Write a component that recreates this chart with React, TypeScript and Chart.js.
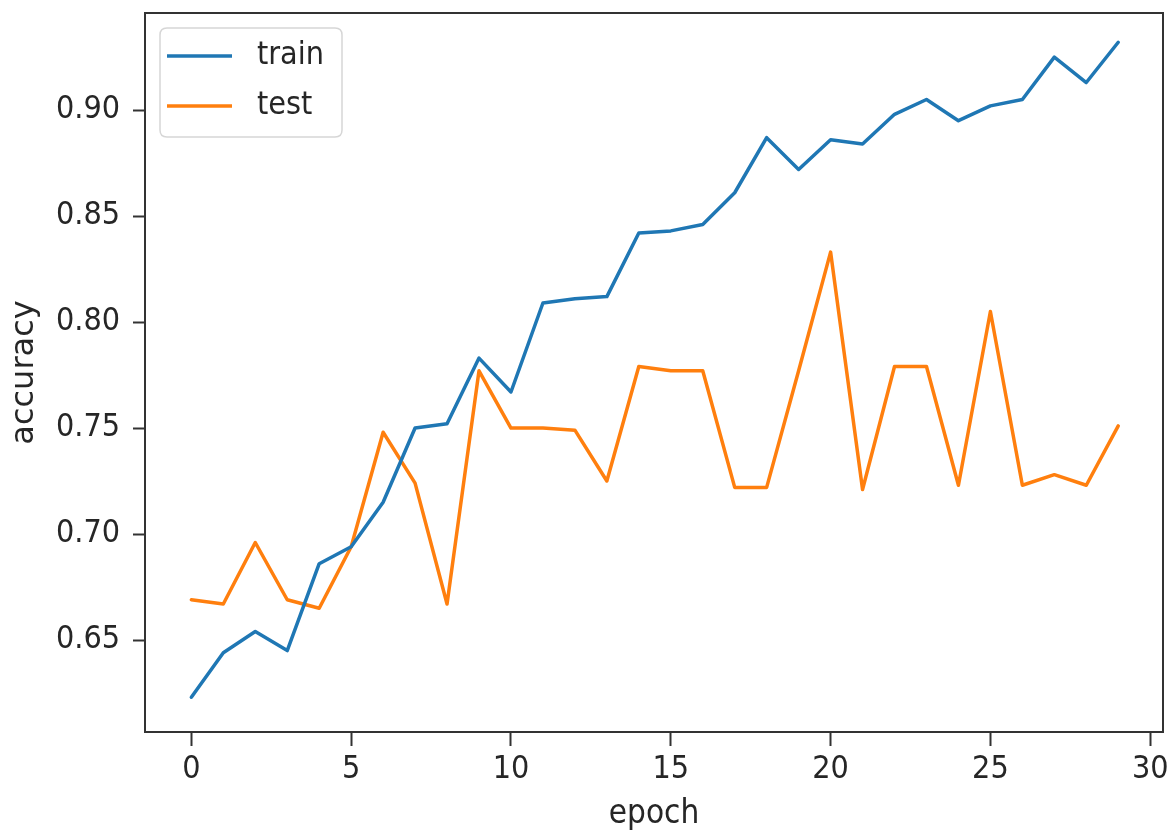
import React, { useEffect, useRef } from "react";
import { Chart, registerables } from "chart.js";

Chart.register(...registerables);

const epochs = [0, 1, 2, 3, 4, 5, 6, 7, 8, 9, 10, 11, 12, 13, 14, 15, 16, 17, 18, 19, 20, 21, 22, 23, 24, 25, 26, 27, 28, 29];
const trainAcc = [0.623, 0.644, 0.654, 0.645, 0.686, 0.694, 0.715, 0.75, 0.752, 0.783, 0.767, 0.809, 0.811, 0.812, 0.842, 0.843, 0.846, 0.861, 0.887, 0.872, 0.886, 0.884, 0.898, 0.905, 0.895, 0.902, 0.905, 0.925, 0.913, 0.932];
const testAcc = [0.669, 0.667, 0.696, 0.669, 0.665, 0.694, 0.748, 0.724, 0.667, 0.777, 0.75, 0.75, 0.749, 0.725, 0.779, 0.777, 0.777, 0.722, 0.722, 0.777, 0.833, 0.721, 0.779, 0.779, 0.723, 0.805, 0.723, 0.728, 0.723, 0.751];
const xTickValues = [0, 5, 10, 15, 20, 25, 30];
const yTickValues = [0.65, 0.7, 0.75, 0.8, 0.85, 0.9];
const seriesLabels = ["train", "test"];
const seriesColors = ["#1f77b4", "#ff7f0e"];
const xTitle = "epoch";
const yTitle = "accuracy";

const TICK_FONT = "'DejaVu Sans Condensed', 'DejaVu Sans', sans-serif";
const TEXT_COLOR = "#262626";

const framePlugin = {
  id: "frameAndLegend",
  afterDraw(chart: any) {
    const { ctx, chartArea: a } = chart;
    ctx.save();
    ctx.strokeStyle = "#333333";
    ctx.lineWidth = 2;
    ctx.strokeRect(a.left, a.top, a.right - a.left, a.bottom - a.top);

    const bx = a.left + 15;
    const by = a.top + 15;
    const bw = 182;
    const bh = 109;
    const r = 7;
    ctx.beginPath();
    ctx.moveTo(bx + r, by);
    ctx.lineTo(bx + bw - r, by);
    ctx.quadraticCurveTo(bx + bw, by, bx + bw, by + r);
    ctx.lineTo(bx + bw, by + bh - r);
    ctx.quadraticCurveTo(bx + bw, by + bh, bx + bw - r, by + bh);
    ctx.lineTo(bx + r, by + bh);
    ctx.quadraticCurveTo(bx, by + bh, bx, by + bh - r);
    ctx.lineTo(bx, by + r);
    ctx.quadraticCurveTo(bx, by, bx + r, by);
    ctx.closePath();
    ctx.fillStyle = "rgba(255,255,255,0.8)";
    ctx.fill();
    ctx.strokeStyle = "#d6d6d6";
    ctx.lineWidth = 1.5;
    ctx.stroke();

    chart.data.datasets.forEach((ds: any, i: number) => {
      const y = by + 28 + i * 50;
      ctx.beginPath();
      ctx.moveTo(bx + 7, y);
      ctx.lineTo(bx + 72, y);
      ctx.strokeStyle = ds.borderColor;
      ctx.lineWidth = 3.5;
      ctx.stroke();
      ctx.fillStyle = TEXT_COLOR;
      ctx.font = `32px ${TICK_FONT}`;
      ctx.textAlign = "left";
      ctx.textBaseline = "middle";
      ctx.fillText(ds.label, bx + 97, y);
    });
    ctx.restore();
  },
};

export default function App() {
  const canvasRef = useRef<HTMLCanvasElement | null>(null);

  useEffect(() => {
    document.body.style.margin = "0";
    const canvas = canvasRef.current;
    if (!canvas) return;
    const chart = new Chart(canvas, {
      type: "line",
      data: {
        datasets: [
          {
            label: seriesLabels[0],
            data: epochs.map((e, i) => ({ x: e, y: trainAcc[i] })),
            borderColor: seriesColors[0],
            backgroundColor: seriesColors[0],
          },
          {
            label: seriesLabels[1],
            data: epochs.map((e, i) => ({ x: e, y: testAcc[i] })),
            borderColor: seriesColors[1],
            backgroundColor: seriesColors[1],
          },
        ],
      },
      options: {
        responsive: false,
        animation: false,
        devicePixelRatio: 1,
        layout: { padding: { top: 13, right: 7, left: 0, bottom: 0 } },
        plugins: { legend: { display: false }, tooltip: { enabled: false } },
        elements: {
          point: { radius: 0, hoverRadius: 0 },
          line: { borderWidth: 3.5, tension: 0, borderJoinStyle: "round", borderCapStyle: "round" },
        },
        scales: {
          x: {
            type: "linear",
            min: -1.45,
            max: 30.4,
            afterBuildTicks: (s: any) => {
              s.ticks = xTickValues.map((v) => ({ value: v }));
            },
            afterFit: (s: any) => {
              s.height = 105;
              s.paddingLeft = 0;
              s.paddingRight = 0;
            },
            border: { display: false },
            grid: {
              display: true,
              drawOnChartArea: false,
              drawTicks: true,
              tickLength: 14,
              tickWidth: 2,
              tickColor: "#333333",
            },
            ticks: {
              color: TEXT_COLOR,
              font: { family: TICK_FONT, size: 32 },
              padding: 4,
              maxRotation: 0,
              autoSkip: false,
              callback: (v: any) => String(v),
            },
            title: {
              display: true,
              text: xTitle,
              color: TEXT_COLOR,
              font: { family: TICK_FONT, size: 33 },
              padding: { top: 0, bottom: 3 },
            },
          },
          y: {
            type: "linear",
            min: 0.6066,
            max: 0.9458,
            afterBuildTicks: (s: any) => {
              s.ticks = yTickValues.map((v) => ({ value: v }));
            },
            afterFit: (s: any) => {
              s.width = 145;
              s.paddingTop = 0;
              s.paddingBottom = 0;
            },
            border: { display: false },
            grid: {
              display: true,
              drawOnChartArea: false,
              drawTicks: true,
              tickLength: 12,
              tickWidth: 2,
              tickColor: "#333333",
            },
            ticks: {
              color: TEXT_COLOR,
              font: { family: TICK_FONT, size: 32 },
              padding: 13,
              autoSkip: false,
              callback: (v: any) => Number(v).toFixed(2),
            },
            title: {
              display: true,
              text: yTitle,
              color: TEXT_COLOR,
              font: { family: "'DejaVu Sans', sans-serif", size: 32 },
              padding: { top: 5, bottom: 0 },
            },
          },
        },
      },
      plugins: [framePlugin],
    });
    return () => chart.destroy();
  }, []);

  return (
    <div style={{ width: 1170, height: 837, background: "#ffffff" }}>
      <canvas ref={canvasRef} width={1170} height={837} style={{ display: "block" }} />
    </div>
  );
}
